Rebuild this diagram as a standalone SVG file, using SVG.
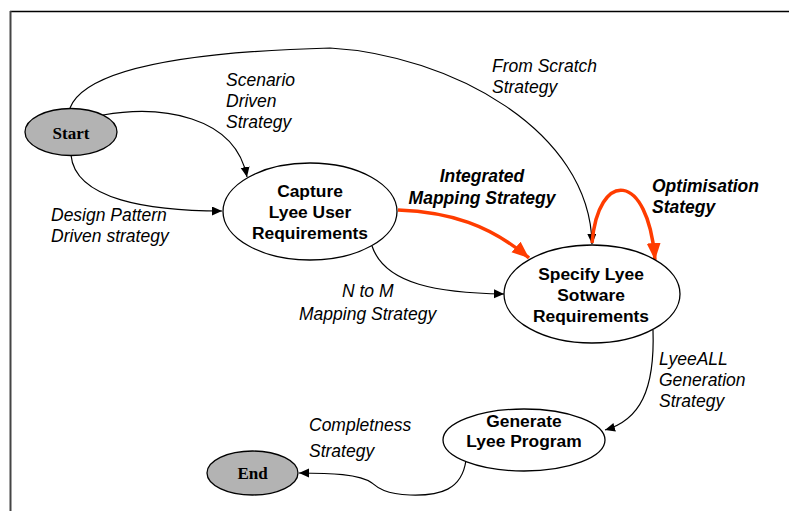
<svg xmlns="http://www.w3.org/2000/svg" width="789" height="511" viewBox="0 0 789 511">
<style>
.node{fill:#fff;stroke:#000;stroke-width:1.3}
.term{fill:#b3b3b3;stroke:#000;stroke-width:1.3}
.nl{font-family:"Liberation Sans",Arial,sans-serif;font-weight:bold;font-size:17.4px;text-anchor:middle;fill:#000}
.tl{font-family:"Liberation Serif","Times New Roman",serif;font-weight:bold;font-size:17px;text-anchor:middle;fill:#000}
.el{font-family:"Liberation Sans",Arial,sans-serif;font-style:italic;font-size:17.5px;fill:#000}
.elb{font-family:"Liberation Sans",Arial,sans-serif;font-style:italic;font-weight:bold;font-size:17.5px;fill:#000}
.c{fill:none;stroke:#000;stroke-width:1.2}
.r{fill:none;stroke:#ff3c00;stroke-width:3.5}
</style>
<defs>
<marker id="ab" markerUnits="userSpaceOnUse" markerWidth="11" markerHeight="10" refX="10" refY="4.5" orient="auto" viewBox="0 0 11 10">
<path d="M0,0 L10,4.5 L0,9 z" fill="#000"/>
</marker>
<marker id="ar" markerUnits="userSpaceOnUse" markerWidth="18" markerHeight="15" refX="17" refY="7" orient="auto" viewBox="0 0 18 15">
<path d="M0,0 L17,7 L0,14 z" fill="#ff3c00"/>
</marker>
</defs>
<rect width="789" height="511" fill="#fff"/>
<g id="frame">
<line x1="10" y1="11.5" x2="789" y2="11.5" stroke="#000" stroke-width="1.3"/>
<line x1="10.5" y1="11" x2="10.5" y2="511" stroke="#444" stroke-width="2"/>
</g>
<g id="connectors">
<path class="c" d="M70,108 C85,70 180,52 330,48 C450,55 590,130 592,244" marker-end="url(#ab)"/>
<path class="c" d="M103,115 C160,105 235,115 247,177" marker-end="url(#ab)"/>
<path class="c" d="M71,155 C75,200 150,211 222,211" marker-end="url(#ab)"/>
<path class="c" d="M372,246 C385,285 440,293 504,294" marker-end="url(#ab)"/>
<path class="c" d="M653,330 C655,390 640,420 605,430" marker-end="url(#ab)"/>
<path class="c" d="M466,460 C462,490 440,496 410,495 C385,494 378,488 372,483 C360,474 330,473 299,473" marker-end="url(#ab)"/>
<path class="r" d="M398,210 C450,212 490,225 529,258" marker-end="url(#ar)"/>
<path class="r" d="M592,243 C598,170 648,170 655,260" marker-end="url(#ar)"/>
</g>
<g id="start">
<ellipse class="term" cx="71" cy="132" rx="46" ry="23.5"/>
<text class="tl" x="71" y="139">Start</text>
</g>
<g id="capture">
<ellipse class="node" cx="310" cy="211.5" rx="87" ry="48.5"/>
<text class="nl" x="310" y="197">Capture</text>
<text class="nl" x="310" y="218">Lyee User</text>
<text class="nl" x="310" y="239">Requirements</text>
</g>
<g id="specify">
<ellipse class="node" cx="592" cy="294" rx="88" ry="49"/>
<text class="nl" x="591" y="280">Specify Lyee</text>
<text class="nl" x="591" y="301">Sotware</text>
<text class="nl" x="591" y="322">Requirements</text>
</g>
<g id="generate">
<ellipse class="node" cx="524" cy="440" rx="81" ry="31"/>
<text class="nl" x="524" y="427">Generate</text>
<text class="nl" x="524" y="447">Lyee Program</text>
</g>
<g id="end">
<ellipse class="term" cx="252.5" cy="473" rx="45.5" ry="22"/>
<text class="tl" x="252.5" y="479">End</text>
</g>
<g id="labels">
<text class="el" x="226" y="86">Scenario</text>
<text class="el" x="226" y="107">Driven</text>
<text class="el" x="226" y="128">Strategy</text>
<text class="el" x="492" y="72">From Scratch</text>
<text class="el" x="492" y="93">Strategy</text>
<text class="el" x="51" y="221">Design Pattern</text>
<text class="el" x="51" y="242">Driven strategy</text>
<text class="elb" x="482" y="182" text-anchor="middle">Integrated</text>
<text class="elb" x="482" y="204" text-anchor="middle">Mapping Strategy</text>
<text class="elb" x="652" y="192">Optimisation</text>
<text class="elb" x="652" y="213">Stategy</text>
<text class="el" x="342" y="297">N to M</text>
<text class="el" x="299" y="320">Mapping Strategy</text>
<text class="el" x="659" y="365">LyeeALL</text>
<text class="el" x="659" y="386">Generation</text>
<text class="el" x="659" y="407">Strategy</text>
<text class="el" x="309" y="431">Completness</text>
<text class="el" x="309" y="457">Strategy</text>
</g>
</svg>
